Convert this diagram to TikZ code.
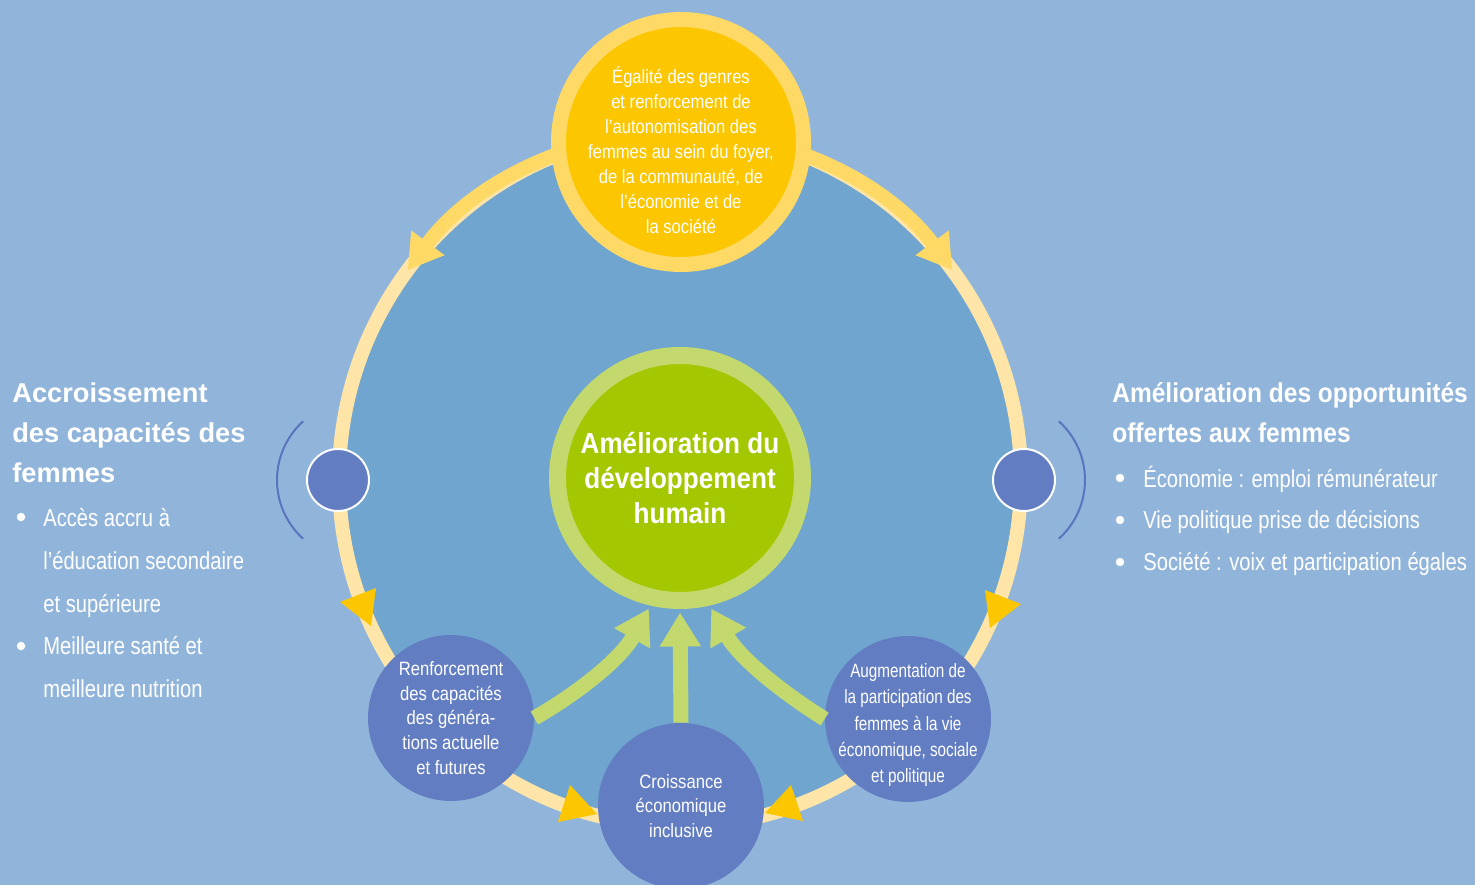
\documentclass[tikz,border=0pt]{standalone}
\usepackage{fontspec}
\setmainfont{Liberation Sans}
\newfontfamily\thinfont[FakeStretch=0.86]{Liberation Sans}
\newfontfamily\listfont[FakeStretch=0.82]{Liberation Sans}
\newfontfamily\narrowfont[FakeStretch=0.79]{Liberation Sans}
\newfontfamily\headfont[FakeStretch=0.9]{Liberation Sans}
\usetikzlibrary{arrows.meta}

\definecolor{bgblue}{HTML}{91B5DA}
\definecolor{innerblue}{HTML}{6FA5CE}
\definecolor{paleyellow}{HTML}{FFE6A8}
\definecolor{softyellow}{HTML}{FFD966}
\definecolor{deepyellow}{HTML}{FCC600}
\definecolor{lightgreen}{HTML}{C3D96E}
\definecolor{deepgreen}{HTML}{A3C700}
\definecolor{nodeblue}{HTML}{627DC1}
\definecolor{arcblue}{HTML}{5A73BE}

\tikzset{
  ring/.style={draw=paleyellow, line width=0.28cm},
  yellowarc/.style={draw=softyellow, line width=0.28cm,
    -{Triangle[length=0.68cm, width=0.78cm]}},
  tipfill/.style={fill=deepyellow},
  greenarrow/.style={draw=lightgreen, line width=0.3cm, shorten >=0.07cm,
    -{Triangle[length=0.68cm, width=0.78cm]}},
  bracket/.style={draw=arcblue, line width=0.04cm},
  topcircle/.style={circle, fill=deepyellow, draw=softyellow, line width=0.3cm,
    minimum size=4.9cm, inner sep=0pt},
  centercircle/.style={circle, fill=deepgreen, draw=lightgreen, line width=0.34cm,
    minimum size=4.9cm, inner sep=0pt, text=white, align=center,
    font=\headfont\bfseries\fontsize{16.5}{19.9}\selectfont},
  dotcircle/.style={circle, fill=nodeblue, draw=white, line width=0.04cm,
    minimum size=1.24cm, inner sep=0pt},
  bluecircle/.style={circle, fill=nodeblue, minimum size=3.32cm, inner sep=0pt,
    text=white, align=center, font=\thinfont\fontsize{11}{14.1}\selectfont},
  circletext/.style={text=white, align=center, inner sep=0pt,
    font=\thinfont\fontsize{11}{14.2}\selectfont},
  headline/.style={text=white, align=left, inner sep=0pt,
    font=\headfont\bfseries\fontsize{15.5}{22.5}\selectfont},
  bulletline/.style={text=white, align=left, inner sep=0pt,
    font=\listfont\fontsize{14}{24.3}\selectfont},
  bulletdot/.style={circle, fill=white, minimum size=0.17cm, inner sep=0pt}
}

\begin{document}
\begin{tikzpicture}[x=0.02cm, y=-0.02cm]

    % frame and background
    \useasboundingbox (0,0) rectangle (1475,885);
    \clip (0,0) rectangle (1475,885);
    \fill[bgblue] (0,0) rectangle (1475,885);

    % the big cycle
    \draw[ring, fill=innerblue] (680,479) ellipse [x radius=341, y radius=347];
    \draw[yellowarc] (680,132) arc[start angle=-90, end angle=-143, x radius=341, y radius=347];
    \draw[yellowarc] (680,132) arc[start angle=-90, end angle=-37, x radius=341, y radius=347];

    % arrow heads on the ring
    \fill[tipfill] (340,602) -- (376,588) -- (371,626) -- cycle;
    \fill[tipfill] (985,590) -- (1021,604) -- (990,628) -- cycle;
    \fill[tipfill] (570,785) -- (597,814) -- (558,822) -- cycle;
    \fill[tipfill] (791,785) -- (765,813) -- (803,821) -- cycle;

    % brackets beside the side dots
    \coordinate (lbrk) at (356,480);
    \coordinate (rbrk) at (1006,480);
    \draw[bracket] (lbrk) ++(-132:79) arc[start angle=-132, end angle=-228, radius=79];
    \draw[bracket] (rbrk) ++(-48:79) arc[start angle=-48, end angle=48, radius=79];

    % circles
    \node[topcircle] (gender) at (681,142) {};
    \node[circletext] (gendertxt) at (681,150) {Égalité des genres\\et renforcement de\\l’autonomisation des\\femmes au sein du foyer,\\de la communauté, de\\l’économie et de\\la société};

    \node[centercircle] (human) at (680,478) {Amélioration du\\développement\\humain};

    \node[dotcircle] (leftdot) at (338,480) {};
    \node[dotcircle] (rightdot) at (1024,480) {};

    \node[bluecircle] (renf) at (451,718) {Renforcement\\des capacités\\des généra-\\tions actuelle\\et futures};
    \node[bluecircle] (growth) at (681,806) {Croissance\\économique\\inclusive};
    \node[bluecircle] (partic) at (908,719) {};
    \node[circletext, font=\narrowfont\fontsize{11}{14.9}\selectfont] (partictxt) at (908,725) {Augmentation de\\la participation des\\femmes à la vie\\économique, sociale\\et politique};

    % arrows into the centre
    \draw[greenarrow] (renf.east) .. controls (575,695) and (620,660) .. (human.257);
    \draw[greenarrow] (growth.north) -- (human.south);
    \draw[greenarrow] (partic.west) .. controls (786,695) and (741,660) .. (human.283);

    % left text
    \node[headline, anchor=base west, font=\rmfamily\bfseries\fontsize{15.5}{22.5}\selectfont] (capatitle) at (12,482) {Accroissement\\des capacités des\\femmes};
    \node[bulletdot] (capb1) at (21,517) {};
    \node[bulletline, anchor=base west] (capl1) at (43,612) {Accès accru à\\l’éducation secondaire\\et supérieure};
    \node[bulletdot] (capb2) at (21,646) {};
    \node[bulletline, anchor=base west] (capl2) at (43,697) {Meilleure santé et\\meilleure nutrition};

    % right text
    \node[headline, anchor=base west] (opptitle) at (1112,442) {Amélioration des opportunités\\offertes aux femmes};
    \node[bulletdot] (oppb1) at (1120,478) {};
    \node[bulletline, anchor=base west] (oppl1) at (1143,487) {Économie : emploi rémunérateur};
    \node[bulletdot] (oppb2) at (1120,520) {};
    \node[bulletline, anchor=base west] (oppl2) at (1143,528) {Vie politique prise de décisions};
    \node[bulletdot] (oppb3) at (1120,562) {};
    \node[bulletline, anchor=base west] (oppl3) at (1143,570) {Société : voix et participation égales};

\end{tikzpicture}
\end{document}
